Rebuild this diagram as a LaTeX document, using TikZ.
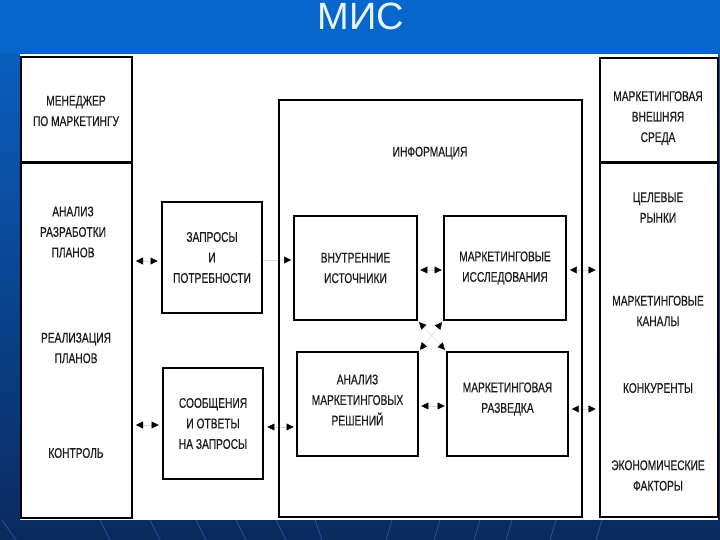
\documentclass[tikz,border=0pt]{standalone}
\usepackage{fontspec}
\setmainfont{Liberation Sans}
\newfontfamily\nar[FakeStretch=0.73,FakeBold=0.5]{Liberation Sans}
\usetikzlibrary{arrows.meta}
\pgfdeclarelayer{background}
\pgfsetlayers{background,main}
\definecolor{topblue}{HTML}{0766CC}
\definecolor{midblue}{HTML}{0A5EBE}
\definecolor{navy}{HTML}{0A2A5E}
\definecolor{streak}{HTML}{24559A}
\definecolor{titlec}{HTML}{E8F5FF}
\definecolor{txt}{HTML}{1C1C1C}
\begin{document}
\begin{tikzpicture}[x=1pt,y=-1pt,
  txtfont/.style={font=\nar\fontsize{14}{20.5}\selectfont, text=txt, align=center},
  lbl/.style={txtfont, inner sep=0pt},
  box/.style={txtfont, draw=black, line width=2.8pt, fill=white, inner sep=0pt},
  col/.style={draw=black, line width=2pt, fill=white, inner sep=0pt},
  biarrow/.style={{Triangle[length=7pt,width=7pt,color=black]}-{Triangle[length=7pt,width=7pt,color=black]}, draw=gray!30, line width=0.4pt, shorten <=3pt, shorten >=3pt},
  onearrow/.style={-{Triangle[length=7pt,width=7pt,color=black]}, draw=gray!30, line width=0.4pt, shorten >=1.5pt},
]
\useasboundingbox (0,0) rectangle (720,540);

% title
\node[anchor=base, text=titlec, font=\fontsize{38}{38}\selectfont, inner sep=0pt] (title) at (361,30) {МИС};

% left column
\node[col, minimum width=111pt, minimum height=461pt] (lcol) at (76.5,287.5) {};
\draw[line width=3pt] (lcol.west |- 0,163) -- (lcol.east |- 0,163);
\node[lbl] (mgr) at (76,111) {МЕНЕДЖЕР\\ПО МАРКЕТИНГУ};
\node[lbl] (an) at (73,232) {АНАЛИЗ\\РАЗРАБОТКИ\\ПЛАНОВ};
\node[lbl] (real) at (76,348) {РЕАЛИЗАЦИЯ\\ПЛАНОВ};
\node[lbl] (ctrl) at (76,453) {КОНТРОЛЬ};

% right column
\node[col, minimum width=118pt, minimum height=459pt] (rcol) at (659,287.5) {};
\draw[line width=3pt] (rcol.west |- 0,163) -- (rcol.east |- 0,163);
\node[lbl] (env) at (658,118) {МАРКЕТИНГОВАЯ\\ВНЕШНЯЯ\\СРЕДА};
\node[lbl] (tgt) at (658,207.5) {ЦЕЛЕВЫЕ\\РЫНКИ};
\node[lbl] (chn) at (658,311) {МАРКЕТИНГОВЫЕ\\КАНАЛЫ};
\node[lbl] (cmp) at (658,388) {КОНКУРЕНТЫ};
\node[lbl] (eco) at (658,475.5) {ЭКОНОМИЧЕСКИЕ\\ФАКТОРЫ};

% information box
\node[draw=black, line width=2.5pt, minimum width=303pt, minimum height=417pt, inner sep=0pt] (info) at (430.5,308.5) {};
\node[lbl] (infot) at (430,153) {ИНФОРМАЦИЯ};

% small boxes
\node[box, minimum width=100pt, minimum height=111pt] (zap) at (212,257.5) {ЗАПРОСЫ\\И\\ПОТРЕБНОСТИ};
\node[box, minimum width=100pt, minimum height=111pt] (soob) at (213,423.5) {СООБЩЕНИЯ\\И ОТВЕТЫ\\НА ЗАПРОСЫ};
\node[box, minimum width=123pt, minimum height=104pt] (vnut) at (355.5,268) {ВНУТРЕННИЕ\\ИСТОЧНИКИ};
\node[box, minimum width=122pt, minimum height=104pt] (issl) at (505,268) {МАРКЕТИНГОВЫЕ\\ИССЛЕДОВАНИЯ};
\node[box, minimum width=121pt, minimum height=104pt] (anal) at (357.5,404) {};
\node[lbl] (analt) at (357.5,400) {АНАЛИЗ\\МАРКЕТИНГОВЫХ\\РЕШЕНИЙ};
\node[box, minimum width=121pt, minimum height=104pt] (razv) at (507.5,404) {};
\node[lbl] (razvt) at (507.5,399) {МАРКЕТИНГОВАЯ\\РАЗВЕДКА};

% helper coordinates for arrow heights
\coordinate (h1) at (0,261);
\coordinate (h2) at (0,425);
\coordinate (h3) at (0,260);
\coordinate (h4) at (0,427);
\coordinate (h5) at (0,270);
\coordinate (h6) at (0,406);
\coordinate (h7) at (0,409);

\begin{pgfonlayer}{background}
  \fill[topblue] (0,0) rectangle (720,54);
  \shade[top color=midblue, bottom color=navy] (0,54) rectangle (720,540);
  \foreach \a/\b in {2/16,100/110,150/160,196/206,236/246,276/286,315/322}
    \draw[streak, line width=0.8pt] (\a,520) -- (\b,540);
  \foreach \a/\b in {392/386,440/434,480/474,512/506,556/550,602/596}
    \draw[streak, line width=0.8pt] (\a,520) -- (\b,540);
  \fill[white] (20,54) rectangle (718,520);
  \draw[biarrow] (lcol.east |- h1) -- (zap.west |- h1);
  \draw[biarrow] (lcol.east |- h2) -- (soob.west |- h2);
  \draw[onearrow] (zap.east |- h3) -- (vnut.west |- h3);
  \draw[biarrow, shorten <=3pt, shorten >=2pt] (soob.east |- h4) -- (anal.west |- h4);
  \draw[biarrow, shorten <=2pt, shorten >=1pt] (vnut.east |- h5) -- (issl.west |- h5);
  \draw[biarrow, shorten <=2.5pt, shorten >=3.5pt] (issl.east |- h5) -- (rcol.west |- h5);
  \draw[biarrow, shorten <=2pt, shorten >=1pt] (anal.east |- h6) -- (razv.west |- h6);
  \draw[biarrow, shorten <=2.5pt, shorten >=3.5pt] (razv.east |- h7) -- (rcol.west |- h7);
  \draw[biarrow, shorten <=1pt, shorten >=1pt] (vnut.south east) -- (razv.north west);
  \draw[biarrow, shorten <=1pt, shorten >=1pt] (issl.south west) -- (anal.north east);
\end{pgfonlayer}
\end{tikzpicture}
\end{document}
